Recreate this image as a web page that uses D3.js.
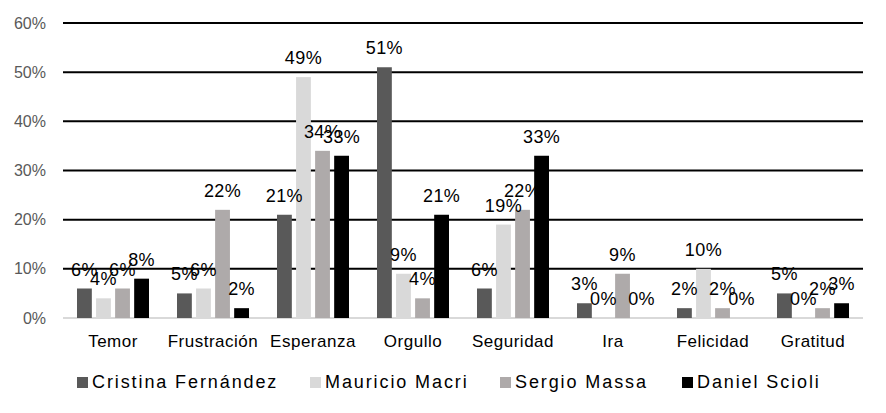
<!DOCTYPE html>
<html>
<head>
<meta charset="utf-8">
<script src="https://cdn.jsdelivr.net/npm/d3@7"></script>
<style>
  body { margin: 0; background: #fff; }
  svg { display: block; font-family: "Liberation Sans", Arial, sans-serif; }
</style>
</head>
<body>
<svg width="886" height="413"></svg>
<script>
// data
const categories = ['Temor', 'Frustración', 'Esperanza', 'Orgullo', 'Seguridad', 'Ira', 'Felicidad', 'Gratitud']
const series = ['Cristina Fernández', 'Mauricio Macri', 'Sergio Massa', 'Daniel Scioli']
const cristina = [6, 5, 21, 51, 6, 3, 2, 5]
const macri = [4, 6, 49, 9, 19, 0, 10, 0]
const massa = [6, 22, 34, 4, 22, 9, 2, 2]
const scioli = [8, 2, 33, 21, 33, 0, 0, 3]
const yTicks = [0, 10, 20, 30, 40, 50, 60]

const values = [cristina, macri, massa, scioli]
const colors = ['#595959', '#d9d9d9', '#aeaaaa', '#000000']

const svg = d3.select('svg')

const x0 = d3.scaleBand().domain(categories).range([63, 863])
const x1 = d3.scaleBand().domain(series).range([14, 86]).paddingInner(0.222)
const y = d3.scaleLinear().domain([0, 60]).range([318, 23])

// gridlines
svg.append('g').selectAll('line').data(yTicks).enter().append('line')
    .attr('x1', 63).attr('x2', 863)
    .attr('y1', d => y(d)).attr('y2', d => y(d))
    .attr('stroke', d => d === 0 ? '#d9d9d9' : '#000')
    .attr('stroke-width', 2)

// y tick labels
svg.append('g').selectAll('text').data(yTicks).enter().append('text')
    .attr('x', 46).attr('y', d => y(d))
    .attr('dy', '0.35em')
    .attr('text-anchor', 'end')
    .attr('fill', '#595959')
    .attr('font-size', 16)
    .text(d => d + '%')

// bars
const rows = []
series.forEach((s, si) => {
  categories.forEach((c, ci) => {
    rows.push({ s: s, si: si, c: c, v: values[si][ci] })
  })
})

svg.append('g').selectAll('rect').data(rows).enter().append('rect')
    .attr('x', d => x0(d.c) + x1(d.s))
    .attr('width', x1.bandwidth())
    .attr('y', d => y(d.v))
    .attr('height', d => y(0) - y(d.v))
    .attr('fill', d => colors[d.si])

// data labels
svg.append('g').selectAll('text').data(rows).enter().append('text')
    .attr('x', d => x0(d.c) + x1(d.s) + x1.bandwidth() / 2)
    .attr('y', d => y(d.v) - 13)
    .attr('text-anchor', 'middle')
    .attr('font-size', 18)
    .attr('letter-spacing', 0.4)
    .attr('fill', '#000')
    .text(d => d.v + '%')

// category labels
svg.append('g').selectAll('text').data(categories).enter().append('text')
    .attr('x', d => x0(d) + x0.bandwidth() / 2)
    .attr('y', 347)
    .attr('text-anchor', 'middle')
    .attr('font-size', 17)
    .attr('letter-spacing', 0.5)
    .text(d => d)

// legend
const legendX = [77, 310, 500, 682]
const legend = svg.append('g').selectAll('g').data(series).enter().append('g')
    .attr('transform', (d, i) => 'translate(' + legendX[i] + ',0)')
legend.append('rect')
    .attr('x', 0).attr('y', 377)
    .attr('width', 11).attr('height', 11)
    .attr('fill', (d, i) => colors[i])
legend.append('text')
    .attr('x', 15).attr('y', 388)
    .attr('font-size', 18)
    .attr('letter-spacing', 1.9)
    .text(d => d)
</script>
</body>
</html>
